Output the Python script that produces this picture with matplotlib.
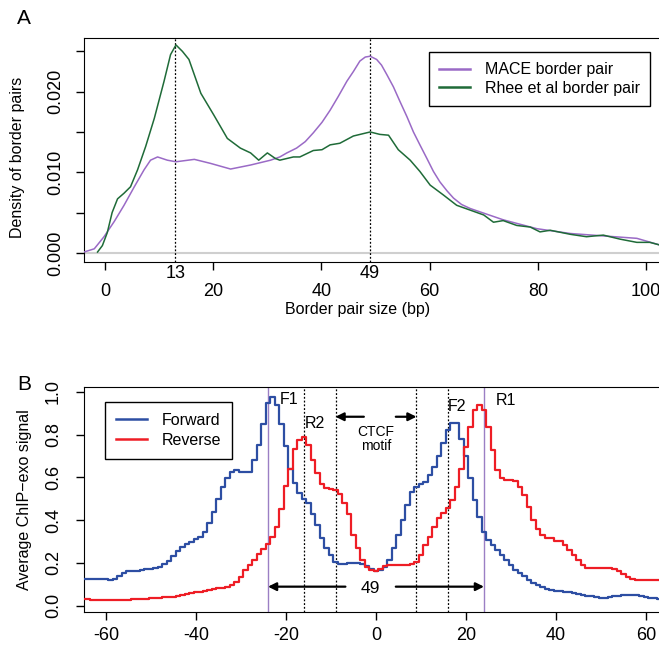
import matplotlib
matplotlib.use("Agg")
import matplotlib.pyplot as plt
import matplotlib.transforms as mtransforms

plt.rcParams['font.family'] = ['Liberation Sans', 'DejaVu Sans']
plt.rcParams['axes.unicode_minus'] = False

# ---- panel A: border pair size densities ----
mace_x = [-3.9, -2.0, -0.2, 1.7, 3.5, 5.4, 7.2, 8.4, 9.7, 11.5, 13.1, 16.5, 19.5, 23.2,
          26.9, 30.6, 32.3, 33.6, 35.4, 37.0, 38.5, 40.1, 41.6, 43.1, 44.7, 45.9, 47.1,
          48.1, 49.0, 50.2, 51.1, 52.1, 53.3, 54.5, 55.8, 57.0, 58.2, 59.5, 60.7, 61.9,
          63.2, 64.4, 65.9, 67.5, 73.6, 79.8, 86.0, 92.1, 98.3, 102.4]
mace_y = [0.0001, 0.0005, 0.0020, 0.0039, 0.0059, 0.0082, 0.0103, 0.0115, 0.0119, 0.0115,
          0.0113, 0.0116, 0.0111, 0.0104, 0.0109, 0.0115, 0.0119, 0.0124, 0.0130, 0.0138,
          0.0149, 0.0162, 0.0177, 0.0194, 0.0213, 0.0225, 0.0238, 0.0243, 0.0244, 0.0240,
          0.0233, 0.0221, 0.0206, 0.0188, 0.0169, 0.0150, 0.0134, 0.0117, 0.0101, 0.0088,
          0.0077, 0.0068, 0.0060, 0.0055, 0.0041, 0.0030, 0.0024, 0.0021, 0.0018, 0.0010]

rhee_x = [-1.4, -0.5, 0.4, 1.3, 2.3, 3.5, 4.7, 6.0, 7.5, 9.1, 10.9, 12.1, 13.1, 14.3, 15.5,
          17.7, 20.1, 22.6, 25.0, 26.9, 28.4, 30.0, 31.5, 32.3, 34.8, 36.0, 38.5, 40.1,
          41.6, 43.4, 45.9, 49.0, 50.8, 52.4, 54.2, 56.4, 58.2, 60.1, 62.5, 65.0, 67.5,
          70.0, 71.8, 73.6, 76.1, 78.6, 80.4, 82.3, 86.0, 89.0, 92.1, 95.2, 98.3, 100.7, 102.4]
rhee_y = [0.0001, 0.0009, 0.0025, 0.0050, 0.0067, 0.0074, 0.0082, 0.0103, 0.0132, 0.0167,
          0.0213, 0.0246, 0.0258, 0.0250, 0.0240, 0.0198, 0.0171, 0.0142, 0.0130, 0.0124,
          0.0115, 0.0124, 0.0117, 0.0115, 0.0119, 0.0119, 0.0127, 0.0128, 0.0134, 0.0136,
          0.0145, 0.0150, 0.0147, 0.0146, 0.0128, 0.0115, 0.0101, 0.0084, 0.0072, 0.0059,
          0.0053, 0.0047, 0.0038, 0.0040, 0.0034, 0.0032, 0.0026, 0.0028, 0.0023, 0.0020,
          0.0022, 0.0017, 0.0013, 0.0013, 0.0010]

# ---- panel B: ChIP-exo signal per position ----
pos = list(range(-65, 64))
forward = [0.127, 0.127, 0.127, 0.127, 0.125, 0.123, 0.122, 0.125, 0.140, 0.155,
           0.160, 0.162, 0.162, 0.165, 0.170, 0.172, 0.176, 0.180, 0.195, 0.210,
           0.230, 0.255, 0.275, 0.290, 0.300, 0.310, 0.320, 0.345, 0.385, 0.440,
           0.500, 0.555, 0.595, 0.625, 0.634, 0.626, 0.626, 0.626, 0.680, 0.750,
           0.850, 0.945, 0.977, 0.940, 0.850, 0.745, 0.640, 0.572, 0.525, 0.500,
           0.480, 0.430, 0.375, 0.315, 0.270, 0.235, 0.205, 0.195, 0.195, 0.198,
           0.200, 0.200, 0.195, 0.185, 0.172, 0.163, 0.165, 0.180, 0.215, 0.270,
           0.330, 0.400, 0.470, 0.530, 0.555, 0.570, 0.580, 0.610, 0.650, 0.700,
           0.760, 0.820, 0.852, 0.852, 0.780, 0.700, 0.595, 0.494, 0.416, 0.346,
           0.307, 0.284, 0.260, 0.237, 0.214, 0.190, 0.167, 0.155, 0.140, 0.120,
           0.105, 0.095, 0.088, 0.080, 0.075, 0.070, 0.067, 0.064, 0.062, 0.058,
           0.054, 0.050, 0.047, 0.044, 0.041, 0.038, 0.036, 0.040, 0.044, 0.047,
           0.048, 0.050, 0.050, 0.048, 0.046, 0.043, 0.038, 0.034, 0.031]
reverse = [0.030, 0.030, 0.028, 0.027, 0.026, 0.025, 0.025, 0.026, 0.027, 0.028,
           0.029, 0.030, 0.031, 0.032, 0.033, 0.034, 0.036, 0.038, 0.040, 0.041,
           0.042, 0.044, 0.048, 0.053, 0.058, 0.062, 0.066, 0.070, 0.074, 0.078,
           0.082, 0.085, 0.088, 0.095, 0.110, 0.135, 0.165, 0.190, 0.215, 0.240,
           0.265, 0.290, 0.320, 0.370, 0.450, 0.560, 0.640, 0.730, 0.775, 0.790,
           0.750, 0.680, 0.620, 0.570, 0.550, 0.545, 0.540, 0.520, 0.480, 0.430,
           0.330, 0.268, 0.214, 0.180, 0.165, 0.160, 0.170, 0.185, 0.190, 0.190,
           0.190, 0.190, 0.190, 0.195, 0.205, 0.237, 0.284, 0.322, 0.370, 0.408,
           0.432, 0.455, 0.494, 0.556, 0.640, 0.740, 0.836, 0.914, 0.938, 0.914,
           0.836, 0.727, 0.634, 0.595, 0.587, 0.587, 0.585, 0.556, 0.517, 0.463,
           0.400, 0.360, 0.330, 0.315, 0.315, 0.303, 0.303, 0.285, 0.260, 0.237,
           0.213, 0.190, 0.178, 0.177, 0.177, 0.177, 0.177, 0.175, 0.170, 0.160,
           0.148, 0.136, 0.125, 0.120, 0.120, 0.120, 0.120, 0.120, 0.120]

purple = '#9a6ac6'
green = '#1f6b38'
blue = '#2d4ea3'
red = '#ee1d25'

fig = plt.figure(figsize=(6.59, 6.51), dpi=100)

# ================= A =================
axA = fig.add_axes([84/659, 1-261.7/651, 1-84/659, 224/651])
axA.axhline(0, color='#cfcfcf', lw=1.5, zorder=1)
axA.plot(mace_x, mace_y, color=purple, lw=1.1, label='MACE border pair', zorder=3)
axA.plot(rhee_x, rhee_y, color=green, lw=1.1, label='Rhee et al border pair', zorder=3)
for v in (13, 49):
    axA.axvline(v, color='black', ls=(0, (1.5, 1.5)), lw=0.9, zorder=2)
axA.set_xlim(-3.9, 102.4)
axA.set_ylim(-0.0011, 0.0267)
axA.set_xticks([0, 20, 40, 60, 80, 100])
axA.set_yticks([0, 0.005, 0.010, 0.015, 0.020, 0.025])
axA.set_yticklabels(['0.000', '', '0.010', '', '0.020', ''])
axA.tick_params(axis='both', length=6, width=1, labelsize=13)
axA.tick_params(axis='x', pad=9)
axA.tick_params(axis='y', pad=8, labelrotation=90)
for lab in axA.get_yticklabels():
    lab.set_va('center')
trA = mtransforms.blended_transform_factory(axA.transData, axA.transAxes)
axA.text(13, -0.053, '13', transform=trA, ha='center', va='center', fontsize=13)
axA.text(49, -0.053, '49', transform=trA, ha='center', va='center', fontsize=13)
axA.set_ylabel('Density of border pairs', fontsize=11.5)
axA.yaxis.set_label_coords(-0.1026, 0.467)
axA.set_xlabel('Border pair size (bp)', fontsize=11.5)
axA.xaxis.set_label_coords(0.475, -0.178)
axA.spines['right'].set_visible(False)
legA = axA.legend(loc='upper left', bbox_to_anchor=(0.6, 0.936), fontsize=11.5,
                  frameon=True, fancybox=False, edgecolor='black', framealpha=1,
                  handlelength=1.9, handletextpad=0.95, borderpad=0.65, labelspacing=0.2,
                  borderaxespad=0)
legA.get_frame().set_linewidth(1.0)
for l in legA.get_lines():
    l.set_linewidth(1.8)
fig.text(17/659, 1-18/651, 'A', fontsize=15, ha='left', va='center')

# ================= B =================
axB = fig.add_axes([84/659, 1-611.7/651, 1-84/659, 224.7/651])
axB.step(pos, forward, where='mid', color=blue, lw=1.6, label='Forward', zorder=3)
axB.step(pos, reverse, where='mid', color=red, lw=1.6, label='Reverse', zorder=3)
for v in (-24, 24):
    axB.axvline(v, color='#9b7fc4', lw=1.0, zorder=2)
for v in (-16, -9, 9, 16):
    axB.axvline(v, color='black', ls=(0, (1.5, 1.5)), lw=0.9, zorder=2)
axB.set_xlim(-64.9, 62.9)
axB.set_ylim(-0.028, 1.022)
axB.set_xticks([-60, -40, -20, 0, 20, 40, 60])
axB.set_yticks([0, 0.2, 0.4, 0.6, 0.8, 1.0])
axB.set_yticklabels(['0.0', '0.2', '0.4', '0.6', '0.8', '1.0'])
axB.tick_params(axis='both', length=6, width=1, labelsize=13)
axB.tick_params(axis='x', pad=5)
axB.tick_params(axis='y', pad=10, labelrotation=90)
for lab in axB.get_yticklabels():
    lab.set_va('center')
axB.set_ylabel('Average ChIP\u2212exo signal', fontsize=11.5)
axB.yaxis.set_label_coords(-0.0904, 0.5)
axB.spines['right'].set_visible(False)

axB.text(-21.5, 0.965, 'F1', fontsize=11.5, ha='left', va='center')
axB.text(-15.8, 0.85, 'R2', fontsize=11.5, ha='left', va='center')
axB.text(16.0, 0.93, 'F2', fontsize=11.5, ha='left', va='center')
axB.text(26.7, 0.96, 'R1', fontsize=11.5, ha='left', va='center')
axB.text(0, 0.78, 'CTCF\nmotif', fontsize=10, ha='center', va='center', linespacing=0.95)
arrow = dict(arrowstyle='-|>', color='black', lw=1.6, mutation_scale=12, shrinkA=0, shrinkB=0)
axB.annotate('', xy=(-9, 0.883), xytext=(-2.7, 0.883), arrowprops=arrow)
axB.annotate('', xy=(9, 0.883), xytext=(4.4, 0.883), arrowprops=arrow)
axB.annotate('', xy=(-24, 0.089), xytext=(-6.8, 0.089), arrowprops=arrow)
axB.annotate('', xy=(24, 0.089), xytext=(4.4, 0.089), arrowprops=arrow)
axB.text(-1.2, 0.08, '49', fontsize=12.5, ha='center', va='center')

legB = axB.legend(loc='upper left', bbox_to_anchor=(0.0365, 0.935), fontsize=11.5,
                  frameon=True, fancybox=False, edgecolor='black', framealpha=1,
                  handlelength=1.9, handletextpad=0.95, borderpad=0.7, labelspacing=0.3,
                  borderaxespad=0)
legB.get_frame().set_linewidth(1.0)
for l in legB.get_lines():
    l.set_linewidth(1.8)
fig.text(17/659, 1-385/651, 'B', fontsize=15, ha='left', va='center')

fig.savefig('out.png', dpi=100)
